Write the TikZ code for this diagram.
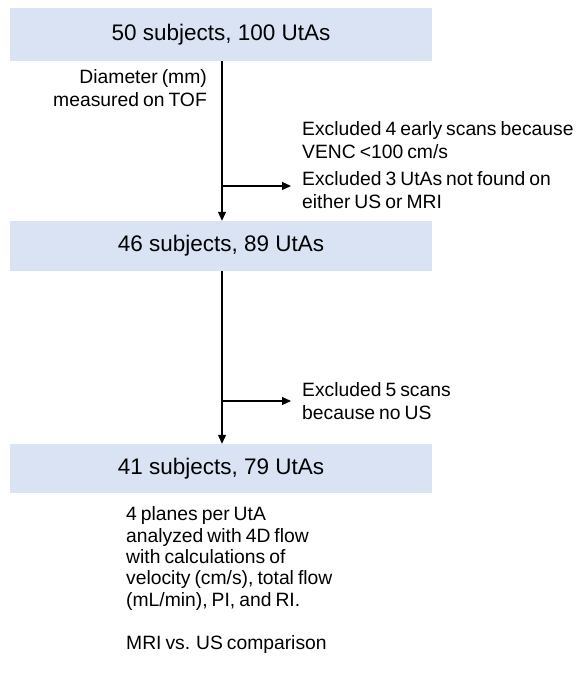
\documentclass[tikz,border=0pt]{standalone}
\usepackage{fontspec}
\setmainfont{Liberation Sans}
\newfontfamily\notefont{Liberation Sans}[WordSpace=0.75]
\usetikzlibrary{arrows.meta}
\definecolor{boxfill}{HTML}{DAE3F3}
\begin{document}
\begin{tikzpicture}[x=1pt,y=-1pt,
  stagebox/.style={draw=none,fill=boxfill,minimum width=422pt,inner sep=0pt,font=\fontsize{22.5}{26}\selectfont},
  note/.style={inner sep=0pt,font=\notefont\fontsize{19.3}{22.5}\selectfont},
  flow/.style={line width=1.1pt,-{Triangle[length=9pt,width=8pt]}}]
\useasboundingbox (0,0) rectangle (585,674);
\node[stagebox,minimum height=53pt] (b1) at (221,34.5) {50 subjects, 100 UtAs};
\node[stagebox,minimum height=50pt] (b2) at (221,246) {46 subjects, 89 UtAs};
\node[stagebox,minimum height=49pt] (b3) at (221,468.5) {41 subjects, 79 UtAs};
\draw[flow] (b1.south -| 222,0) -- (b2.north -| 222,0);
\draw[flow] (b2.south -| 222,0) -- (b3.north -| 222,0);
\coordinate (j1) at (222,186);
\coordinate (j2) at (222,401);
\node[note,anchor=east,align=right] (diam) at (207,88) {Diameter (mm)\\measured on TOF};
\node[note,anchor=west,align=left] (ex1) at (302,140) {Excluded 4 early scans because\\VENC <100 cm/s};
\node[note,anchor=west,align=left] (ex2) at (302,190) {Excluded 3 UtAs not found on\\either US or MRI};
\node[note,anchor=west,align=left] (ex3) at (302,401) {Excluded 5 scans\\because no US};
\draw[flow] (j1) -- ([xshift=-11pt]ex2.west |- j1);
\draw[flow] (j2) -- ([xshift=-11pt]ex3.west |- j2);
\node[note,anchor=west,align=left,font=\notefont\fontsize{19.3}{21.4}\selectfont] (res) at (126,580)
  {4 planes per UtA\\analyzed with 4D flow\\with calculations of\\velocity (cm/s), total flow\\(mL/min), PI, and RI.\\[21.4pt]MRI vs. US comparison};
\end{tikzpicture}
\end{document}
